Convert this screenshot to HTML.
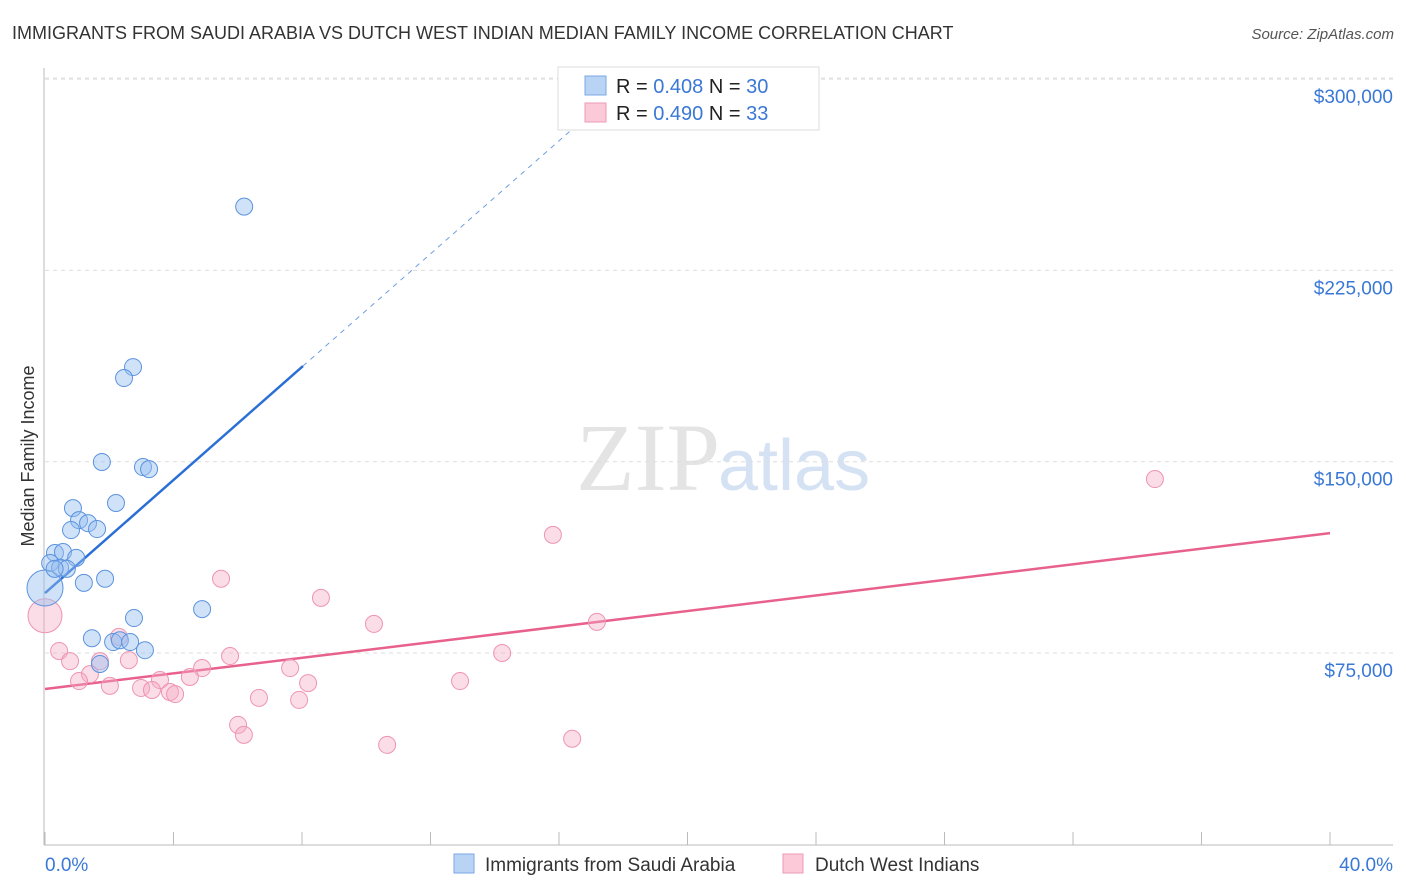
<!DOCTYPE html>
<html><head><meta charset="utf-8"><style>
body{margin:0;background:#fff;font-family:"Liberation Sans",sans-serif;}
svg{display:block}
</style></head><body>
<svg id="c" width="1406" height="892">
<text x="12" y="39" font-size="18" fill="#333">IMMIGRANTS FROM SAUDI ARABIA VS DUTCH WEST INDIAN MEDIAN FAMILY INCOME CORRELATION CHART</text>
<text x="1394" y="39" font-size="15" fill="#555" font-style="italic" text-anchor="end">Source: ZipAtlas.com</text>
<text x="34" y="456" font-size="18" fill="#333" text-anchor="middle" transform="rotate(-90 34 456)">Median Family Income</text>
<text x="720" y="490" font-size="96" fill="#e4e4e4" text-anchor="end" font-family="Liberation Serif,serif">ZIP</text>
<text x="718" y="490" font-size="72" fill="#d5e2f3">atlas</text>
<g id="grid"></g><g id="axes"></g><g id="lines"></g><g id="pts"></g>
<g>
<rect x="558" y="67" width="261" height="63" fill="#fff" stroke="#ddd"/>
<rect x="585" y="76" width="21" height="19" fill="#b9d3f5" stroke="#7aa7e6"/>
<rect x="585" y="103" width="21" height="19" fill="#fbc9d8" stroke="#ee9ab4"/>
<text x="616" y="93" font-size="20" fill="#222">R = <tspan fill="#3a78d6">0.408</tspan>   N = <tspan fill="#3a78d6">30</tspan></text>
<text x="616" y="120" font-size="20" fill="#222">R = <tspan fill="#3a78d6">0.490</tspan>   N =  <tspan fill="#3a78d6">33</tspan></text>
</g>
<g>
<rect x="454" y="854" width="20" height="19" fill="#b9d3f5" stroke="#7aa7e6"/>
<text x="485" y="871" font-size="19" fill="#333">Immigrants from Saudi Arabia</text>
<rect x="783" y="854" width="20" height="19" fill="#fbc9d8" stroke="#ee9ab4"/>
<text x="815" y="871" font-size="19" fill="#333">Dutch West Indians</text>
</g>
<text x="45" y="871" font-size="19" fill="#3a78d6">0.0%</text>
<text x="1393" y="871" font-size="19" fill="#3a78d6" text-anchor="end">40.0%</text>
</svg>
<script>
const yTicks=[75000,150000,225000,300000];
const yTickLabels=["$75,000","$150,000","$225,000","$300,000"];
const blueX=[6.2,2.74,2.46,1.77,3.05,3.24,0.87,2.21,1.06,0.81,1.34,1.62,0.31,0.56,0.97,0.16,0.47,0.68,1.87,1.21,0,2.77,4.89,1.46,2.12,2.33,2.65,3.11,1.71,0.3];
const blueY=[250000,187100,182800,149900,147900,147100,131800,133800,127100,123200,125900,123600,114200,114600,112300,110300,108400,108000,104100,102500,100500,88700,92200,80800,79300,80000,79300,76100,70700,108000];
const pinkX=[0,34.55,15.81,5.48,8.59,10.24,17.18,2.30,0.44,0.78,1.71,2.61,1.40,4.89,5.76,7.63,14.23,1.06,2.02,2.99,3.58,4.51,3.33,3.89,4.05,8.19,12.92,6.66,7.91,6.01,6.19,10.65,16.41];
const pinkY=[89600,143200,121300,104100,96600,86400,87200,81300,75800,71800,71800,72200,66700,69100,73800,69100,75000,64000,62100,61300,64400,65600,60500,59700,58900,63200,64000,57400,56600,46800,42900,39000,41400];
const blueTrend=[[0,98500],[8.03,187500],[17.2,289100]];
const pinkTrend=[[0,60900],[40,122000]];
const NS="http://www.w3.org/2000/svg";
const X=v=>45+v/40*1285, Y=v=>844.3-v*191.3/75000;
function mk(t,a,p){const e=document.createElementNS(NS,t);for(const k in a)e.setAttribute(k,a[k]);p.appendChild(e);return e;}
const grid=document.getElementById('grid'),axes=document.getElementById('axes'),lines=document.getElementById('lines'),pts=document.getElementById('pts');
yTicks.forEach((v,i)=>{
 const l=mk('line',{x1:45,x2:1393,y1:Y(v),y2:Y(v),stroke:'#ddd','stroke-dasharray':'4,4'},grid);
 
 
 const t=mk('text',{x:1393,y:Y(v)+24,'font-size':19,fill:'#3a78d6','text-anchor':'end'},grid);
 t.textContent=yTickLabels[i];
 
 
});
const tg=mk('line',{x1:45,x2:1393,y1:Y(300000)-1,y2:Y(300000)-1,stroke:'#ddd','stroke-dasharray':'4,4'},grid);
mk('line',{x1:44,x2:44,y1:68,y2:845,stroke:'#bbb'},axes);
mk('line',{x1:44,x2:1393,y1:845,y2:845,stroke:'#bbb'},axes);
for(let i=0;i<=10;i++){const t=mk('line',{x1:X(i*4),x2:X(i*4),y1:832,y2:845,stroke:'#bbb'},axes);
 
 }
let bl=mk('line',{x1:X(blueTrend[0][0]),y1:Y(blueTrend[0][1]),x2:X(blueTrend[1][0]),y2:Y(blueTrend[1][1]),stroke:'#2a6fd6','stroke-width':2.5},lines);


let bd=mk('line',{x1:X(blueTrend[1][0]),y1:Y(blueTrend[1][1]),x2:X(blueTrend[2][0]),y2:Y(blueTrend[2][1]),stroke:'#6f9fe0','stroke-width':1,'stroke-dasharray':'5,5'},lines);


let pl=mk('line',{x1:X(pinkTrend[0][0]),y1:Y(pinkTrend[0][1]),x2:X(pinkTrend[1][0]),y2:Y(pinkTrend[1][1]),stroke:'#e8608c','stroke-width':2.5},lines);


pinkX.forEach((x,i)=>{const c=mk('circle',{cx:X(x),cy:Y(pinkY[i]),r:i==0?17:8.5,fill:'rgba(246,170,195,0.4)',stroke:'#ee94b2','stroke-width':1},pts);
 
 });
blueX.forEach((x,i)=>{const c=mk('circle',{cx:X(x),cy:Y(blueY[i]),r:i==20?18:8.5,fill:'rgba(150,190,240,0.45)',stroke:'#5b93df','stroke-width':1},pts);
 
 });
</script>
</body></html>
